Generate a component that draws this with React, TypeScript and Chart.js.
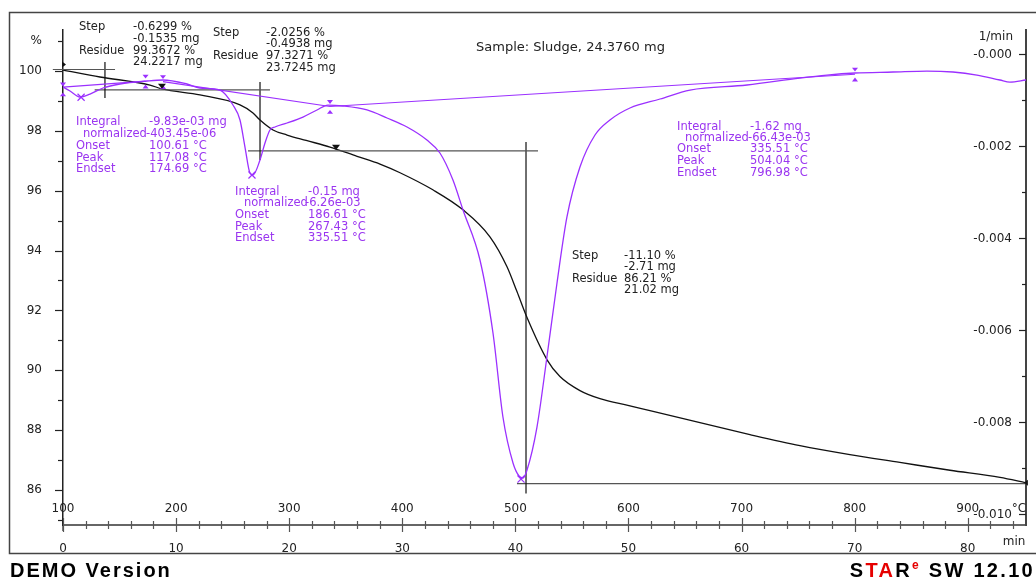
import React, { useEffect, useRef } from 'react';
import { Chart, registerables } from 'chart.js';

Chart.register(...registerables);

// ---------- DATA ----------
// TGA curve: time (min) vs residual mass (%)
const tgaTime = [0, 3.27, 7.69, 8.75, 12.11, 15.65, 16.8, 17.42, 18.57, 19.81, 21.5, 23.61, 26.0, 28.03, 29.8, 32.7, 35.37, 37.75, 39.26, 40.14, 41.03, 42.8, 43.94, 45.71, 47.48, 50.04, 51.9, 56.32, 60.74, 65.16, 69.58, 74.0, 78.43, 82.85, 85.15];
const tgaPct = [100.03, 99.8, 99.53, 99.4, 99.2, 98.87, 98.6, 98.36, 98.03, 97.86, 97.68, 97.46, 97.15, 96.89, 96.6, 96.03, 95.36, 94.46, 93.46, 92.63, 91.76, 90.35, 89.79, 89.32, 89.05, 88.82, 88.65, 88.25, 87.85, 87.48, 87.18, 86.92, 86.66, 86.42, 86.24];

// DTG curve: time (min) vs normalized rate (1/min)
const dtgTime = [0, 0.62, 1.5, 2.39, 3.54, 5.04, 7.43, 8.84, 10.96, 12.11, 13.88, 15.03, 15.65, 16.09, 16.53, 16.8, 17.42, 17.86, 18.3, 18.74, 19.81, 21.22, 22.46, 23.43, 24.76, 26.88, 28.65, 30.42, 32.18, 33.33, 34.48, 35.37, 36.87, 38.02, 38.9, 39.79, 40.32, 40.67, 41.03, 41.91, 42.79, 43.68, 44.56, 45.71, 47.04, 48.36, 50.13, 52.79, 55.44, 60.48, 65.16, 67.55, 70.03, 73.39, 76.39, 78.69, 80.81, 82.85, 83.73, 85.15];
const dtgRate = [-0.717e-3, -0.804e-3, -0.935e-3, -0.87e-3, -0.739e-3, -0.652e-3, -0.587e-3, -0.565e-3, -0.652e-3, -0.739e-3, -0.783e-3, -1.109e-3, -1.435e-3, -2.022e-3, -2.587e-3, -2.63e-3, -2.304e-3, -1.935e-3, -1.652e-3, -1.587e-3, -1.5e-3, -1.37e-3, -1.217e-3, -1.109e-3, -1.13e-3, -1.217e-3, -1.391e-3, -1.587e-3, -1.87e-3, -2.152e-3, -2.739e-3, -3.391e-3, -4.478e-3, -6.065e-3, -7.891e-3, -8.891e-3, -9.174e-3, -9.217e-3, -9.043e-3, -8.109e-3, -6.587e-3, -4.978e-3, -3.543e-3, -2.457e-3, -1.761e-3, -1.435e-3, -1.174e-3, -0.978e-3, -0.783e-3, -0.674e-3, -0.522e-3, -0.457e-3, -0.413e-3, -0.391e-3, -0.37e-3, -0.391e-3, -0.457e-3, -0.565e-3, -0.609e-3, -0.565e-3];

// DTG integration baselines (start/end time, start/end rate)
const baselineStartTime = [0, 8.84, 23.61];
const baselineEndTime = [7.3, 23.61, 70.03];
const baselineStartRate = [-0.72e-3, -0.6e-3, -1.14e-3];
const baselineEndRate = [-0.59e-3, -1.14e-3, -0.44e-3];

// DTG peak markers
const peakTime = [1.6, 16.71, 40.5];
const peakRate = [-0.94e-3, -2.63e-3, -9.24e-3];

// DTG evaluation limit markers
const evalTime = [0, 7.3, 8.84, 23.61, 70.03];
const evalRate = [-0.77e-3, -0.6e-3, -0.61e-3, -1.15e-3, -0.446e-3];

// TGA step construction lines (time pairs, % pairs)
const stepLineTime = [[-0.9, 4.6], [3.71, 3.71], [2.8, 18.3], [17.42, 17.42], [16.36, 42.0], [40.94, 40.94], [40.14, 85.15]];
const stepLinePct = [[100.05, 100.05], [100.3, 99.1], [99.37, 99.37], [99.63, 97.03], [97.33, 97.33], [97.63, 85.88], [86.21, 86.21]];

// TGA evaluation markers
const tgaMarkTime = [0, 8.75, 24.14, 85.15];
const tgaMarkPct = [100.05, 99.37, 97.33, 86.21];

// Axis ticks
const pctTicks = [85, 86, 87, 88, 89, 90, 91, 92, 93, 94, 95, 96, 97, 98, 99, 100, 101];
const pctLabels = ['', '86', '', '88', '', '90', '', '92', '', '94', '', '96', '', '98', '', '100', '%'];
const rateTicks = [-0.010, -0.009, -0.008, -0.007, -0.006, -0.005, -0.004, -0.003, -0.002, -0.001, 0];
const rateLabels = ['-0.010', '', '-0.008', '', '-0.006', '', '-0.004', '', '-0.002', '', '-0.000'];
const timeTicks = [0, 2, 4, 6, 8, 10, 12, 14, 16, 18, 20, 22, 24, 26, 28, 30, 32, 34, 36, 38, 40, 42, 44, 46, 48, 50, 52, 54, 56, 58, 60, 62, 64, 66, 68, 70, 72, 74, 76, 78, 80, 82, 84];
const timeLabels = ['0', '10', '20', '30', '40', '50', '60', '70', '80'];
const tempTicks = [100, 200, 300, 400, 500, 600, 700, 800, 900];

// Annotation texts
const blackNotes: [string, number, number][] = [
  ['Step', 79, 27], ['-0.6299 %', 133, 27], ['-0.1535 mg', 133, 39], ['Residue', 79, 51], ['99.3672 %', 133, 51], ['24.2217 mg', 133, 62],
  ['Step', 213, 33], ['-2.0256 %', 266, 33], ['-0.4938 mg', 266, 44], ['Residue', 213, 56], ['97.3271 %', 266, 56], ['23.7245 mg', 266, 68],
  ['Step', 572, 256], ['-11.10 %', 624, 256], ['-2.71 mg', 624, 267], ['Residue', 572, 279], ['86.21 %', 624, 279], ['21.02 mg', 624, 290],
];
const purpleNotes: [string, number, number][] = [
  ['Integral', 76, 122], ['-9.83e-03 mg', 149, 122], ['normalized', 83, 134], ['-403.45e-06', 146, 134], ['Onset', 76, 146], ['100.61 °C', 149, 146], ['Peak', 76, 158], ['117.08 °C', 149, 158], ['Endset', 76, 169], ['174.69 °C', 149, 169],
  ['Integral', 235, 192], ['-0.15 mg', 308, 192], ['normalized', 244, 203], ['-6.26e-03', 305, 203], ['Onset', 235, 215], ['186.61 °C', 308, 215], ['Peak', 235, 227], ['267.43 °C', 308, 227], ['Endset', 235, 238], ['335.51 °C', 308, 238],
  ['Integral', 677, 127], ['-1.62 mg', 750, 127], ['normalized', 685, 138], ['-66.43e-03', 748, 138], ['Onset', 677, 149], ['335.51 °C', 750, 149], ['Peak', 677, 161], ['504.04 °C', 750, 161], ['Endset', 677, 173], ['796.98 °C', 750, 173],
];
const sampleTitle = 'Sample: Sludge, 24.3760 mg';

const PURPLE = '#9b30ff';
const PURPLE_TEXT = '#9a35f0';
const FONT = "'DejaVu Sans', Verdana, sans-serif";

function tri(ctx: CanvasRenderingContext2D, x: number, y: number, dir: string, s: number) {
  ctx.beginPath();
  if (dir === 'down') { ctx.moveTo(x, y); ctx.lineTo(x - s, y - s * 1.3); ctx.lineTo(x + s, y - s * 1.3); }
  else if (dir === 'up') { ctx.moveTo(x, y); ctx.lineTo(x - s, y + s * 1.3); ctx.lineTo(x + s, y + s * 1.3); }
  else if (dir === 'right') { ctx.moveTo(x, y); ctx.lineTo(x - s * 1.3, y - s); ctx.lineTo(x - s * 1.3, y + s); }
  else { ctx.moveTo(x, y); ctx.lineTo(x + s * 1.3, y - s); ctx.lineTo(x + s * 1.3, y + s); }
  ctx.closePath();
  ctx.fill();
}

const decor = {
  id: 'decor',
  beforeDraw(chart: any) {
    const ctx: CanvasRenderingContext2D = chart.ctx;
    ctx.save();
    ctx.fillStyle = '#fff';
    ctx.fillRect(0, 0, chart.width, chart.height);
    ctx.strokeStyle = '#444';
    ctx.lineWidth = 1.5;
    ctx.beginPath();
    ctx.moveTo(1040, 12.5);
    ctx.lineTo(9.5, 12.5);
    ctx.lineTo(9.5, 553.5);
    ctx.lineTo(1040, 553.5);
    ctx.stroke();
    ctx.restore();
  },
  afterDraw(chart: any) {
    const ctx: CanvasRenderingContext2D = chart.ctx;
    const xs = chart.scales.x, ys = chart.scales.y, y1 = chart.scales.y1;
    const area = chart.chartArea;
    ctx.save();
    // left axis ticks
    ctx.strokeStyle = '#222';
    ctx.lineWidth = 1.2;
    pctTicks.forEach((v, i) => {
      const y = Math.round(ys.getPixelForValue(v)) + 0.5;
      const len = pctLabels[i] !== '' && pctLabels[i] !== '%' ? 8 : 5;
      ctx.beginPath(); ctx.moveTo(area.left - len, y); ctx.lineTo(area.left, y); ctx.stroke();
    });
    ctx.beginPath(); ctx.moveTo(area.left, area.bottom); ctx.lineTo(area.left, area.bottom + 6); ctx.stroke();
    // right axis ticks (inward) and labels
    ctx.font = `12px ${FONT}`;
    ctx.fillStyle = '#222';
    ctx.textAlign = 'right';
    ctx.textBaseline = 'middle';
    rateTicks.forEach((v, i) => {
      const y = Math.round(y1.getPixelForValue(v)) + 0.5;
      const len = rateLabels[i] !== '' ? 7 : 4;
      ctx.beginPath(); ctx.moveTo(area.right - len, y); ctx.lineTo(area.right, y); ctx.stroke();
      if (rateLabels[i]) ctx.fillText(rateLabels[i], area.right - 14, y);
    });
    ctx.fillText('1/min', 1013, 37);
    // x axis ticks crossing
    ctx.strokeStyle = '#555';
    timeTicks.forEach((t) => {
      const x = Math.round(xs.getPixelForValue(t)) + 0.5;
      const major = t % 10 === 0;
      ctx.beginPath();
      ctx.moveTo(x, area.bottom - (major ? 7 : 4));
      ctx.lineTo(x, area.bottom + (major ? 7 : 4));
      ctx.stroke();
    });
    // temperature labels
    ctx.textAlign = 'center';
    tempTicks.forEach((T) => {
      ctx.fillText(String(T), xs.getPixelForValue((T - 100) / 10), 509);
    });
    ctx.fillText('°C', 1019, 509);
    ctx.fillText('min', 1014, 542);
    // sample title
    ctx.textAlign = 'left';
    ctx.font = `13px ${FONT}`;
    ctx.fillText(sampleTitle, 476, 48);
    // notes
    ctx.font = `11.5px ${FONT}`;
    ctx.fillStyle = '#222';
    blackNotes.forEach(([s, x, y]) => ctx.fillText(s, x, y));
    ctx.fillStyle = PURPLE_TEXT;
    purpleNotes.forEach(([s, x, y]) => ctx.fillText(s, x, y));
    // purple evaluation limit markers
    ctx.fillStyle = PURPLE;
    evalTime.forEach((t, i) => {
      const px = xs.getPixelForValue(t);
      const py = y1.getPixelForValue(evalRate[i]);
      tri(ctx, px, py - 3, 'down', 3);
      tri(ctx, px, py + 3, 'up', 3);
    });
    // black TGA markers
    ctx.fillStyle = '#111';
    tgaMarkTime.forEach((t, i) => {
      const px = xs.getPixelForValue(t);
      const py = ys.getPixelForValue(tgaMarkPct[i]);
      if (i === 0) tri(ctx, px + 3, py - 5, 'right', 3);
      else if (i === tgaMarkTime.length - 1) tri(ctx, px - 2, py - 1, 'left', 3);
      else tri(ctx, px, py - 1, 'down', 4);
    });
    ctx.restore();
  },
};

export default function App() {
  const ref = useRef<HTMLCanvasElement>(null);
  useEffect(() => {
    const canvas = ref.current;
    if (!canvas) return;
    const xy = (a: number[], b: number[]) => a.map((x, i) => ({ x, y: b[i] }));
    const datasets: any[] = [];
    baselineStartTime.forEach((t0, i) => {
      datasets.push({
        label: 'baseline' + i,
        data: [{ x: t0, y: baselineStartRate[i] }, { x: baselineEndTime[i], y: baselineEndRate[i] }],
        yAxisID: 'y1', borderColor: PURPLE, borderWidth: 1.1, pointRadius: 0, tension: 0,
      });
    });
    datasets.push({
      label: 'DTG', data: xy(dtgTime, dtgRate), yAxisID: 'y1',
      borderColor: PURPLE, borderWidth: 1.3, pointRadius: 0, cubicInterpolationMode: 'monotone',
    });
    stepLineTime.forEach((ts, i) => {
      datasets.push({
        label: 'step' + i, data: xy(ts, stepLinePct[i]), yAxisID: 'y',
        borderColor: ts[0] === ts[1] ? '#111' : '#555', borderWidth: 1.2, pointRadius: 0, clip: false,
      });
    });
    datasets.push({
      label: 'TGA', data: xy(tgaTime, tgaPct), yAxisID: 'y',
      borderColor: '#111', borderWidth: 1.3, pointRadius: 0, cubicInterpolationMode: 'monotone',
    });
    datasets.push({
      label: 'peaks', data: xy(peakTime, peakRate), yAxisID: 'y1', showLine: false,
      pointStyle: 'crossRot', pointRadius: 5, pointBorderColor: PURPLE, pointBackgroundColor: PURPLE, pointBorderWidth: 1.2,
    });

    const chart = new Chart(canvas, {
      type: 'line',
      data: { datasets },
      options: {
        animation: false,
        responsive: false,
        devicePixelRatio: 1,
        events: [],
        layout: { padding: { left: 0, right: 0, top: 30, bottom: 0 } },
        plugins: { legend: { display: false }, tooltip: { enabled: false } },
        scales: {
          x: {
            type: 'linear', position: 'bottom', min: 0, max: 85.15,
            afterBuildTicks: (s: any) => { s.ticks = timeTicks.map((v) => ({ value: v })); },
            afterFit: (s: any) => { s.height = 54; },
            ticks: {
              autoSkip: false, maxRotation: 0, padding: 9, color: '#222',
              font: { family: FONT, size: 12 },
              callback: (v: any) => (Number(v) % 10 === 0 ? timeLabels[Number(v) / 10] : ''),
            },
            grid: { display: false },
            border: { display: true, color: '#666', width: 2 },
          },
          y: {
            type: 'linear', position: 'left', min: 84.83, max: 101.37,
            afterBuildTicks: (s: any) => { s.ticks = pctTicks.map((v) => ({ value: v })); },
            afterFit: (s: any) => { s.width = 63; },
            ticks: {
              autoSkip: false, padding: 13, color: '#222',
              font: { family: FONT, size: 12 },
              callback: (_v: any, i: number) => pctLabels[i],
            },
            grid: { display: false },
            border: { display: true, color: '#222', width: 1.5 },
          },
          y1: {
            type: 'linear', position: 'right', min: -0.010239, max: 0.000522,
            afterBuildTicks: (s: any) => { s.ticks = rateTicks.map((v) => ({ value: v })); },
            afterFit: (s: any) => { s.width = 10; },
            ticks: { display: false },
            grid: { display: false },
            border: { display: true, color: '#444', width: 2 },
          },
        },
      },
      plugins: [decor],
    } as any);
    return () => chart.destroy();
  }, []);

  const bottomFont = "bold 20px 'Liberation Sans', Arial, sans-serif";
  return (
    <div style={{ position: 'absolute', left: 0, top: 0, width: 1036, height: 579, background: '#fff', overflow: 'hidden' }}>
      <canvas ref={ref} width={1036} height={579} style={{ position: 'absolute', left: 0, top: 0, width: 1036, height: 579 }} />
      <div style={{ position: 'absolute', left: 10, top: 559, font: bottomFont, letterSpacing: '2px', lineHeight: '22px', color: '#000', whiteSpace: 'nowrap' }}>
        DEMO Version
      </div>
      <div style={{ position: 'absolute', right: 1, top: 559, font: bottomFont, letterSpacing: '2.3px', lineHeight: '22px', color: '#000', whiteSpace: 'nowrap' }}>
        S<span style={{ color: '#e60000' }}>TA</span>R<span style={{ color: '#e60000', fontSize: 12, position: 'relative', top: -8 }}>e</span> SW 12.10
      </div>
    </div>
  );
}
